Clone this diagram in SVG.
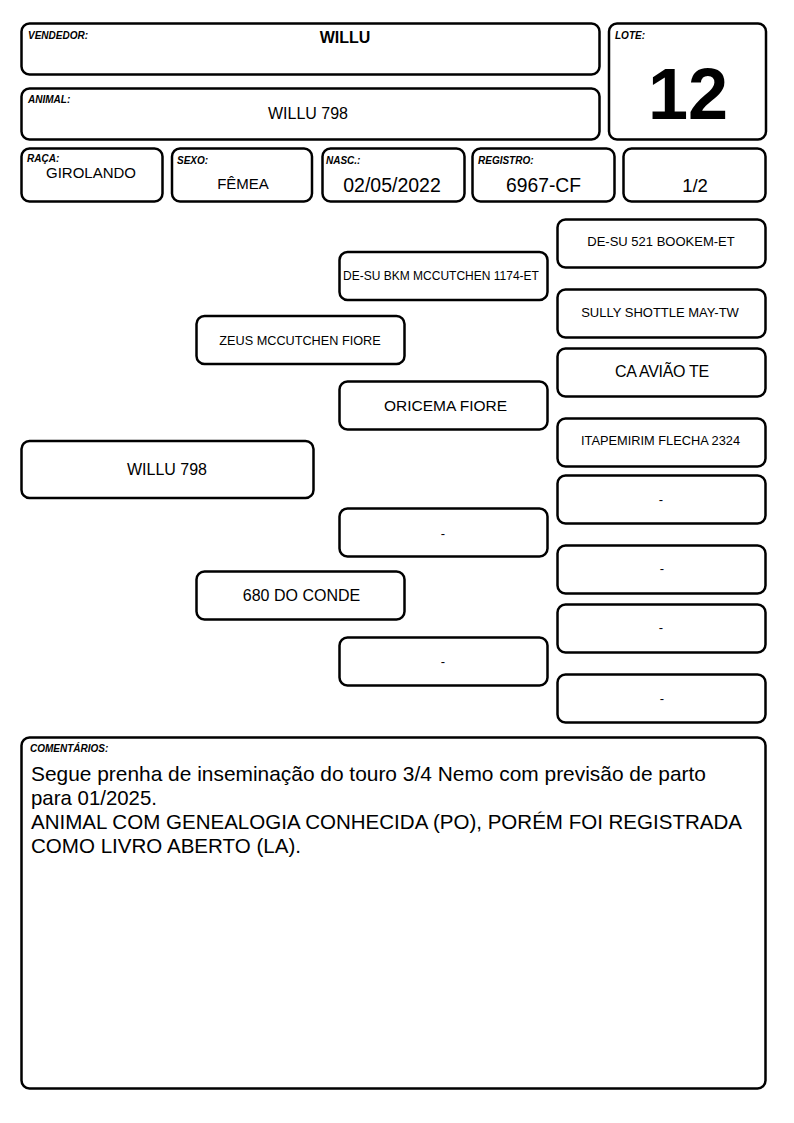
<svg xmlns="http://www.w3.org/2000/svg" width="794" height="1123" viewBox="0 0 794 1123">
<style>
.b{fill:#fff;stroke:#000;stroke-width:2.5}
.lbl{font-family:"Liberation Sans",Arial,sans-serif;font-size:10px;font-weight:bold;font-style:italic;fill:#000}
.t{font-family:"Liberation Sans",Arial,sans-serif;fill:#000;text-anchor:middle}
</style>
<rect width="794" height="1123" fill="#fff"/>
<g id="vendedor"><rect class="b" x="21.5" y="23.5" width="578" height="51" rx="8"/><text class="lbl" x="28" y="39">VENDEDOR:</text><text class="t" x="345" y="43" font-size="16" font-weight="bold">WILLU</text></g>
<g id="animal"><rect class="b" x="21.5" y="88.5" width="578" height="51" rx="8"/><text class="lbl" x="28" y="103">ANIMAL:</text><text class="t" x="308" y="119" font-size="16">WILLU 798</text></g>
<g id="lote"><rect class="b" x="609" y="23.5" width="157" height="116" rx="8"/><text class="lbl" x="615" y="39">LOTE:</text><text class="t" x="688" y="119" font-size="72" font-weight="bold">12</text></g>
<g id="raca"><rect class="b" x="21.5" y="148.5" width="141" height="53" rx="8"/><text class="lbl" x="27" y="162">RAÇA:</text><text class="t" x="91" y="178" font-size="15">GIROLANDO</text></g>
<g id="sexo"><rect class="b" x="172" y="148.5" width="140" height="53" rx="8"/><text class="lbl" x="177" y="164">SEXO:</text><text class="t" x="243" y="189" font-size="15">FÊMEA</text></g>
<g id="nasc"><rect class="b" x="322.5" y="148.5" width="142" height="53" rx="8"/><text class="lbl" x="326" y="164">NASC.:</text><text class="t" x="392" y="192" font-size="19.5">02/05/2022</text></g>
<g id="registro"><rect class="b" x="472.5" y="148.5" width="142" height="53" rx="8"/><text class="lbl" x="478" y="164">REGISTRO:</text><text class="t" x="543.5" y="192" font-size="19.3">6967-CF</text></g>
<g id="pagina"><rect class="b" x="623.5" y="148.5" width="142" height="53" rx="8"/><text class="t" x="695" y="192" font-size="18.5">1/2</text></g>
<g id="connectors"></g>
<g id="p0"><rect class="b" x="21.5" y="441" width="292" height="57" rx="8"/><text class="t" x="167" y="475" font-size="16">WILLU 798</text></g>
<g id="p1"><rect class="b" x="196.5" y="316" width="208" height="48" rx="8"/><text class="t" x="300" y="345" font-size="12.7">ZEUS MCCUTCHEN FIORE</text></g>
<g id="p2"><rect class="b" x="196.5" y="571.5" width="208" height="48" rx="8"/><text class="t" x="301.5" y="601" font-size="16">680 DO CONDE</text></g>
<g id="p3"><rect class="b" x="339.5" y="252" width="208" height="48" rx="8"/><text class="t" x="441" y="280" font-size="12">DE-SU BKM MCCUTCHEN 1174-ET</text></g>
<g id="p4"><rect class="b" x="339.5" y="381.5" width="208" height="48" rx="8"/><text class="t" x="445.5" y="411" font-size="15.5">ORICEMA FIORE</text></g>
<g id="p5"><rect class="b" x="339.5" y="508.5" width="208" height="48" rx="8"/><text class="t" x="443" y="538" font-size="13">-</text></g>
<g id="p6"><rect class="b" x="339.5" y="637.5" width="208" height="48" rx="8"/><text class="t" x="443" y="666" font-size="13">-</text></g>
<g id="p7"><rect class="b" x="557.5" y="219.5" width="208" height="48" rx="8"/><text class="t" x="661" y="246" font-size="13">DE-SU 521 BOOKEM-ET</text></g>
<g id="p8"><rect class="b" x="557.5" y="289.5" width="208" height="48" rx="8"/><text class="t" x="660" y="317" font-size="13">SULLY SHOTTLE MAY-TW</text></g>
<g id="p9"><rect class="b" x="557.5" y="348.5" width="208" height="48" rx="8"/><text class="t" x="662" y="377" font-size="16" letter-spacing="-0.3">CA AVIÃO TE</text></g>
<g id="p10"><rect class="b" x="557.5" y="418.5" width="208" height="48" rx="8"/><text class="t" x="660.5" y="445" font-size="12.8">ITAPEMIRIM FLECHA 2324</text></g>
<g id="p11"><rect class="b" x="557.5" y="475.5" width="208" height="48" rx="8"/><text class="t" x="661" y="504" font-size="13">-</text></g>
<g id="p12"><rect class="b" x="557.5" y="545.5" width="208" height="48" rx="8"/><text class="t" x="662" y="573" font-size="13">-</text></g>
<g id="p13"><rect class="b" x="557.5" y="604.5" width="208" height="48" rx="8"/><text class="t" x="661" y="632" font-size="13">-</text></g>
<g id="p14"><rect class="b" x="557.5" y="674.5" width="208" height="48" rx="8"/><text class="t" x="662" y="703" font-size="13">-</text></g>
<g id="comentarios"><rect class="b" x="21.5" y="737.5" width="744" height="351" rx="8"/><text class="lbl" x="30" y="752">COMENTÁRIOS:</text>
<g font-family="Liberation Sans, Arial, sans-serif" font-size="20.6" fill="#000">
<text x="31" y="781" textLength="675" lengthAdjust="spacingAndGlyphs">Segue prenha de inseminação do touro 3/4 Nemo com previsão de parto</text>
<text x="31" y="805" textLength="126" lengthAdjust="spacingAndGlyphs">para 01/2025.</text>
<text x="31" y="829" textLength="711" lengthAdjust="spacingAndGlyphs">ANIMAL COM GENEALOGIA CONHECIDA (PO), PORÉM FOI REGISTRADA</text>
<text x="31" y="853" textLength="270" lengthAdjust="spacingAndGlyphs">COMO LIVRO ABERTO (LA).</text>
</g></g>
</svg>
